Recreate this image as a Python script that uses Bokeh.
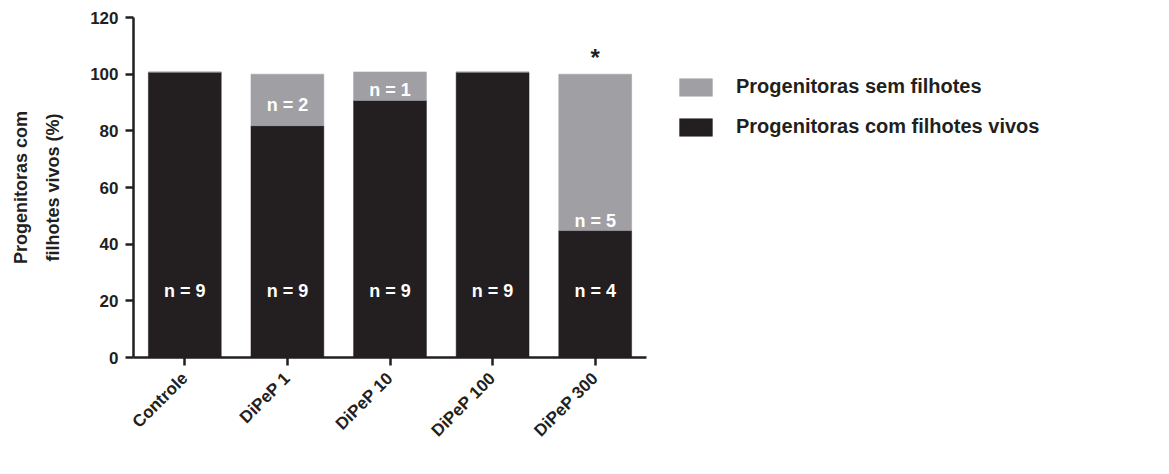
from bokeh.plotting import figure
from bokeh.models import (ColumnDataSource, FactorRange, Range1d, FixedTicker,
                          Legend, LegendItem)
from bokeh.core.properties import value
from bokeh.embed import file_html
from bokeh.resources import INLINE

# Groups and percentages of dams (stacked to ~100 %)
categories = ["Controle", "DiPeP 1", "DiPeP 10", "DiPeP 100", "DiPeP 300"]
com_filhotes = [100.7, 81.8, 90.7, 100.7, 44.8]   # dams with live pups (%)
sem_filhotes = [0.0, 18.2, 10.1, 0.0, 55.2]       # dams without pups (%)
n_com = [9, 9, 9, 9, 4]
n_sem = [0, 2, 1, 0, 5]
y_ticks = [0, 20, 40, 60, 80, 100, 120]
signif = ["", "", "", "", "*"]

BLACK = "#231f20"
GRAY = "#a09fa4"
FONT = "Liberation Sans"

totals = [a + b for a, b in zip(com_filhotes, sem_filhotes)]

src = ColumnDataSource(dict(cat=categories, com=com_filhotes, sem=sem_filhotes))

p = figure(x_range=FactorRange(factors=categories, range_padding=0),
           y_range=Range1d(0, 120),
           frame_width=513, frame_height=340,
           min_border_left=133, min_border_right=0,
           min_border_top=17, min_border_bottom=117,
           output_backend="svg", toolbar_location=None)

p.outline_line_color = None
p.grid.visible = False
p.background_fill_color = "white"
p.border_fill_color = "white"

bars = p.vbar_stack(["com", "sem"], x="cat", width=0.71, color=[BLACK, GRAY],
                    line_color=[BLACK, GRAY], line_width=0.5, source=src)

# n labels inside the black part
lab_black = ColumnDataSource(dict(cat=categories, y=[23.3] * len(categories),
                                  t=[f"n = {n}" for n in n_com]))
p.text(x="cat", y="y", text="t", source=lab_black, text_color="white",
       text_font=value(FONT), text_font_style="bold", text_font_size="18px",
       text_align="center", text_baseline="middle")

# n labels in the grey part, sitting just above the black part
gray_label_lift = [0, 18, 8, 0, 7]
g_cat, g_y, g_t, g_off = [], [], [], []
for c, b, s, n, lift in zip(categories, com_filhotes, sem_filhotes, n_sem, gray_label_lift):
    if n > 0:
        g_cat.append(c)
        g_y.append(b)
        g_t.append(f"n = {n}")
        g_off.append(-lift - 3)
lab_gray = ColumnDataSource(dict(cat=g_cat, y=g_y, t=g_t, off=g_off))
p.text(x="cat", y="y", text="t", y_offset="off", source=lab_gray, text_color="white",
       text_font=value(FONT), text_font_style="bold", text_font_size="18px",
       text_align="center", text_baseline="alphabetic")

# significance mark above the bar
star_src = ColumnDataSource(dict(cat=[c for c, s in zip(categories, signif) if s],
                                 y=[t for t, s in zip(totals, signif) if s],
                                 t=[s for s in signif if s]))
p.text(x="cat", y="y", text="t", source=star_src, y_offset=-17, text_color=BLACK,
       text_font=value(FONT), text_font_style="bold", text_font_size="24px",
       text_align="center", text_baseline="alphabetic")

# axes
for ax in (p.xaxis[0], p.yaxis[0]):
    ax.axis_line_color = BLACK
    ax.axis_line_width = 2.5
    ax.major_tick_line_color = BLACK
    ax.major_tick_line_width = 2.5
    ax.major_tick_in = 0
    ax.major_tick_out = 8
    ax.minor_tick_line_color = None
    ax.major_label_text_font = FONT
    ax.major_label_text_font_style = "bold"
    ax.major_label_text_color = BLACK

p.yaxis.ticker = FixedTicker(ticks=y_ticks)
p.yaxis.major_label_text_font_size = "17px"
p.yaxis.major_label_standoff = 7
p.yaxis.axis_label = "Progenitoras com\nfilhotes vivos (%)"
p.yaxis.axis_label_text_font = FONT
p.yaxis.axis_label_text_font_style = "bold"
p.yaxis.axis_label_text_font_size = "18px"
p.yaxis.axis_label_text_color = BLACK
p.yaxis.axis_label_text_line_height = 1.6
p.yaxis.axis_label_standoff = 24

p.xaxis.major_label_orientation = 0.785
p.xaxis.major_label_text_font_size = "17px"
p.xaxis.major_label_standoff = 10

legend = Legend(items=[LegendItem(label="Progenitoras sem filhotes", renderers=[bars[1]]),
                       LegendItem(label="Progenitoras com filhotes vivos", renderers=[bars[0]])],
                location=(29, 219), padding=0, margin=0, spacing=17,
                glyph_width=41, glyph_height=22, label_height=22, label_standoff=20,
                border_line_color=None, background_fill_alpha=0,
                label_text_font=FONT, label_text_font_style="bold",
                label_text_font_size="20px", label_text_color=BLACK)
p.add_layout(legend, "right")

open("out.html", "w").write(file_html(p, INLINE))
